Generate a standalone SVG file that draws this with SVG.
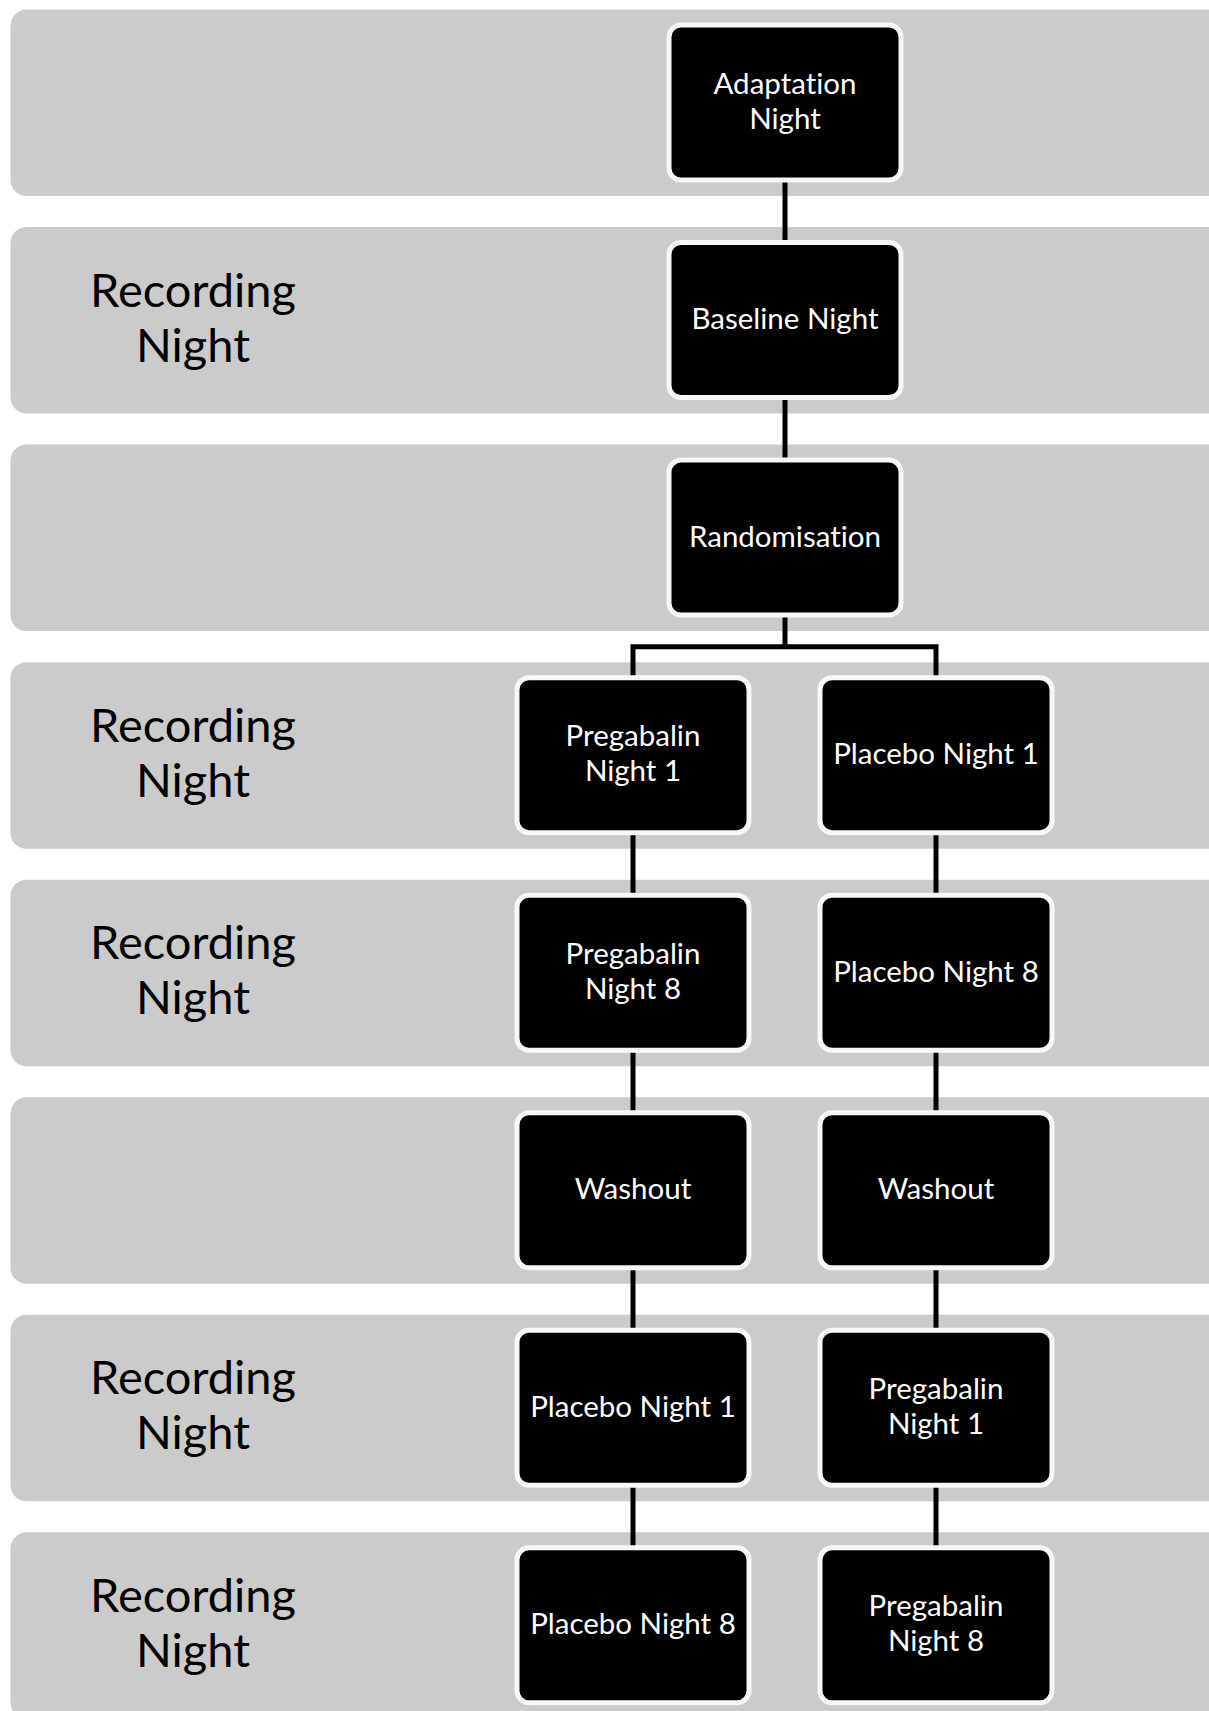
<svg xmlns="http://www.w3.org/2000/svg" width="1209" height="1711" viewBox="0 0 1209 1711">
<style>
.band{fill:#cbcbcb}
.lbl{font-family:Lato,"Liberation Sans",sans-serif;font-size:47px;fill:#000;text-anchor:middle;font-variant-ligatures:none}
.box{fill:#000;stroke:#f7f7f7;stroke-width:5}
.nt{font-family:Lato,"Liberation Sans",sans-serif;font-size:29.5px;fill:#fff;text-anchor:middle;font-variant-ligatures:none}
.con{fill:none;stroke:#000;stroke-width:5;stroke-linejoin:miter}
</style>
<rect width="1209" height="1711" fill="#fff"/>
<g id="bands">
<rect class="band" x="10.5" y="9.5" width="1240" height="186.5" rx="16"/>
<rect class="band" x="10.5" y="227.05" width="1240" height="186.5" rx="16"/>
<rect class="band" x="10.5" y="444.6" width="1240" height="186.5" rx="16"/>
<rect class="band" x="10.5" y="662.15" width="1240" height="186.5" rx="16"/>
<rect class="band" x="10.5" y="879.7" width="1240" height="186.5" rx="16"/>
<rect class="band" x="10.5" y="1097.25" width="1240" height="186.5" rx="16"/>
<rect class="band" x="10.5" y="1314.8" width="1240" height="186.5" rx="16"/>
<rect class="band" x="10.5" y="1532.35" width="1240" height="186.5" rx="16"/>
</g>
<g id="labels">
<text class="lbl" x="193" y="306.5">Recording</text><text class="lbl" x="193" y="361.5">Night</text>
<text class="lbl" x="193" y="741.6">Recording</text><text class="lbl" x="193" y="796.6">Night</text>
<text class="lbl" x="193" y="959.2">Recording</text><text class="lbl" x="193" y="1014.2">Night</text>
<text class="lbl" x="193" y="1394.3">Recording</text><text class="lbl" x="193" y="1449.3">Night</text>
<text class="lbl" x="193" y="1611.8">Recording</text><text class="lbl" x="193" y="1666.8">Night</text>
</g>
<g id="connectors">
<path class="con" d="M785 180 V243"/>
<path class="con" d="M785 397 V461"/>
<path class="con" d="M785 615 V646.8 M633 678 V646.8 H936 V678"/>
<path class="con" d="M633 832 V896 M936 832 V896"/>
<path class="con" d="M633 1050 V1113 M936 1050 V1113"/>
<path class="con" d="M633 1267 V1331 M936 1267 V1331"/>
<path class="con" d="M633 1485 V1548 M936 1485 V1548"/>
</g>
<g id="n-adaptation"><rect class="box" x="669" y="25" width="232" height="155" rx="12"/><text class="nt" x="785" y="93.5">Adaptation</text><text class="nt" x="785" y="128.5">Night</text></g>
<g id="n-baseline"><rect class="box" x="669" y="242.55" width="232" height="155" rx="12"/><text class="nt" x="785" y="329">Baseline Night</text></g>
<g id="n-random"><rect class="box" x="669" y="460.1" width="232" height="155" rx="12"/><text class="nt" x="785" y="546.6">Randomisation</text></g>
<g id="n-preg1a"><rect class="box" x="517" y="677.65" width="232" height="155" rx="12"/><text class="nt" x="633" y="746.2">Pregabalin</text><text class="nt" x="633" y="781.2">Night 1</text></g>
<g id="n-plac1a"><rect class="box" x="820" y="677.65" width="232" height="155" rx="12"/><text class="nt" x="936" y="764.2">Placebo Night 1</text></g>
<g id="n-preg8a"><rect class="box" x="517" y="895.2" width="232" height="155" rx="12"/><text class="nt" x="633" y="963.7">Pregabalin</text><text class="nt" x="633" y="998.7">Night 8</text></g>
<g id="n-plac8a"><rect class="box" x="820" y="895.2" width="232" height="155" rx="12"/><text class="nt" x="936" y="981.7">Placebo Night 8</text></g>
<g id="n-washL"><rect class="box" x="517" y="1112.75" width="232" height="155" rx="12"/><text class="nt" x="633" y="1199.3">Washout</text></g>
<g id="n-washR"><rect class="box" x="820" y="1112.75" width="232" height="155" rx="12"/><text class="nt" x="936" y="1199.3">Washout</text></g>
<g id="n-plac1b"><rect class="box" x="517" y="1330.3" width="232" height="155" rx="12"/><text class="nt" x="633" y="1416.8">Placebo Night 1</text></g>
<g id="n-preg1b"><rect class="box" x="820" y="1330.3" width="232" height="155" rx="12"/><text class="nt" x="936" y="1398.8">Pregabalin</text><text class="nt" x="936" y="1433.8">Night 1</text></g>
<g id="n-plac8b"><rect class="box" x="517" y="1547.85" width="232" height="155" rx="12"/><text class="nt" x="633" y="1634.4">Placebo Night 8</text></g>
<g id="n-preg8b"><rect class="box" x="820" y="1547.85" width="232" height="155" rx="12"/><text class="nt" x="936" y="1616.4">Pregabalin</text><text class="nt" x="936" y="1651.4">Night 8</text></g>
</svg>
